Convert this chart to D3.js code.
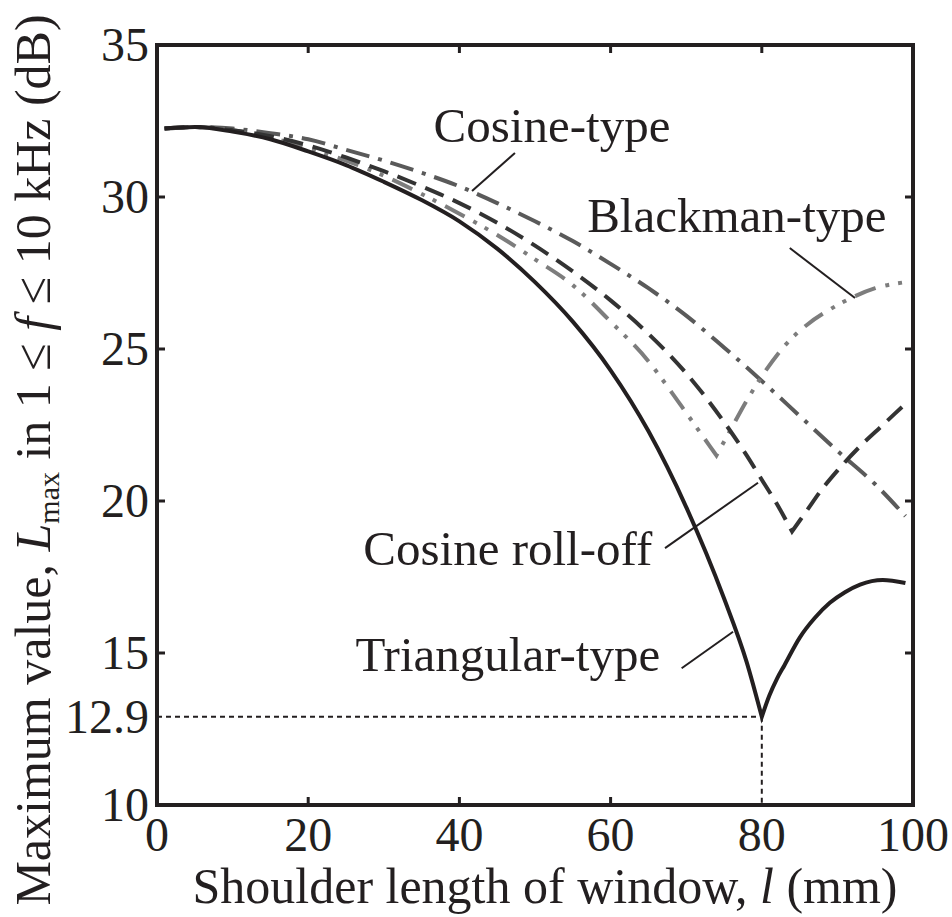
<!DOCTYPE html>
<html>
<head>
<meta charset="utf-8">
<script src="https://cdn.jsdelivr.net/npm/d3@7/dist/d3.min.js"></script>
<style>
  html, body { margin: 0; padding: 0; background: #fff; }
  svg { display: block; font-family: "Liberation Serif", "Times New Roman", serif; }
</style>
</head>
<body>
<svg id="chart" width="952" height="917"></svg>
<script>
// Shoulder length l (mm) and peak level Lmax (dB) for each window type
const triX  = [1, 5, 10, 15, 20, 25, 30, 35, 40, 45, 50, 55, 60, 65, 70, 75, 78, 80, 81, 82, 83, 85, 87, 89, 91, 93, 96, 99];
const triY  = [32.25, 32.3, 32.15, 31.9, 31.5, 31.05, 30.5, 29.9, 29.2, 28.3, 27.2, 25.9, 24.3, 22.3, 19.8, 16.8, 14.7, 12.9, 13.6, 14.15, 14.6, 15.5, 16.15, 16.65, 17.0, 17.25, 17.4, 17.3];

const rollX = [1, 5, 10, 15, 20, 25, 30, 35, 40, 45, 50, 55, 60, 65, 70, 75, 78, 80, 82, 84, 86, 88, 90, 93, 96, 99];
const rollY = [32.25, 32.3, 32.2, 32.0, 31.7, 31.3, 30.85, 30.35, 29.8, 29.15, 28.4, 27.55, 26.6, 25.5, 24.2, 22.6, 21.5, 20.7, 19.9, 19.0, 19.7, 20.4, 21.0, 21.8, 22.5, 23.2];

const blackX = [1, 5, 10, 15, 20, 25, 30, 35, 40, 45, 50, 55, 60, 65, 68, 70, 72, 74, 76, 78, 80, 83, 86, 89, 92, 95, 99];
const blackY = [32.25, 32.3, 32.2, 31.95, 31.6, 31.2, 30.7, 30.1, 29.45, 28.75, 27.95, 27.1, 25.9, 24.6, 23.6, 22.9, 22.2, 21.5, 22.4, 23.3, 24.1, 25.1, 25.8, 26.3, 26.7, 27.0, 27.2];

const cosX  = [1, 5, 10, 15, 20, 25, 30, 35, 40, 45, 50, 55, 60, 65, 70, 75, 80, 85, 90, 95, 99];
const cosY  = [32.25, 32.3, 32.25, 32.1, 31.9, 31.55, 31.2, 30.8, 30.35, 29.8, 29.2, 28.55, 27.8, 27.0, 26.1, 25.05, 23.95, 22.8, 21.65, 20.55, 19.5];

// Axis ticks
const xTickValues = [0, 20, 40, 60, 80, 100];
const yTickValues = [10, 15, 20, 25, 30, 35];
// Minimum of the triangular-type window, marked with dotted guides
const minMarkX = 80;
const minMarkY = 12.9;

// Plot frame
const plotLeft = 157, plotRight = 913, plotTop = 45, plotBottom = 805;
const svg = d3.select("#chart");
const x = d3.scaleLinear().domain([0, 100]).range([plotLeft, plotRight]);
const y = d3.scaleLinear().domain([10, 35]).range([plotBottom, plotTop]);

const line = d3.line().x(d => x(d[0])).y(d => y(d[1])).curve(d3.curveMonotoneX);

// Smooth path that keeps the notch (local minimum) as a sharp cusp
function notchPath(xs, ys) {
  const pts = xs.map((v, i) => [v, ys[i]]);
  let k = -1;
  for (let i = 1; i < ys.length - 1; i++) {
    if (ys[i] < ys[i - 1] && ys[i] < ys[i + 1] && xs[i] > 50) { k = i; break; }
  }
  if (k < 0) return line(pts);
  const a = line(pts.slice(0, k + 1));
  const b = line(pts.slice(k)).replace(/^M[-\d.e]+,[-\d.e]+/, "");
  return a + b;
}

// Dotted guides to the minimum
svg.append("line")
  .attr("x1", x(0)).attr("x2", x(minMarkX))
  .attr("y1", y(minMarkY)).attr("y2", y(minMarkY))
  .attr("stroke", "#231f20").attr("stroke-width", 2).attr("stroke-dasharray", "5,4");
svg.append("line")
  .attr("x1", x(minMarkX)).attr("x2", x(minMarkX))
  .attr("y1", y(minMarkY)).attr("y2", y(10))
  .attr("stroke", "#231f20").attr("stroke-width", 2).attr("stroke-dasharray", "5,4");

const series = [
  { xs: cosX,   ys: cosY,   color: "#5a5a5a", dash: "24,9,4,9" },
  { xs: blackX, ys: blackY, color: "#7d7d7d", dash: "22,10,4,9,4,10" },
  { xs: rollX,  ys: rollY,  color: "#333333", dash: "20,10" },
  { xs: triX,   ys: triY,   color: "#231f20", dash: null }
];

svg.append("g").selectAll("path")
  .data(series)
  .join("path")
  .attr("d", s => notchPath(s.xs, s.ys))
  .attr("fill", "none")
  .attr("stroke", s => s.color)
  .attr("stroke-width", 4)
  .attr("stroke-dasharray", s => s.dash)
  .attr("stroke-linejoin", "miter");

// Ticks pointing into the plot on all four sides
const tickLen = 8;
const tickG = svg.append("g").attr("stroke", "#231f20").attr("stroke-width", 3);
[20, 40, 60].forEach(v => {
  tickG.append("line").attr("x1", x(v)).attr("x2", x(v)).attr("y1", plotBottom).attr("y2", plotBottom - tickLen);
});
[20, 40, 60, 80].forEach(v => {
  tickG.append("line").attr("x1", x(v)).attr("x2", x(v)).attr("y1", plotTop).attr("y2", plotTop + tickLen);
});
[15, 20, 25, 30].forEach(v => {
  tickG.append("line").attr("x1", plotLeft).attr("x2", plotLeft + tickLen).attr("y1", y(v)).attr("y2", y(v));
  tickG.append("line").attr("x1", plotRight).attr("x2", plotRight - tickLen).attr("y1", y(v)).attr("y2", y(v));
});

// Frame
svg.append("rect")
  .attr("x", plotLeft).attr("y", plotTop)
  .attr("width", plotRight - plotLeft).attr("height", plotBottom - plotTop)
  .attr("fill", "none").attr("stroke", "#231f20").attr("stroke-width", 4);

// Tick labels
const labelSize = 48;
svg.append("g").selectAll("text")
  .data(xTickValues)
  .join("text")
  .attr("x", d => x(d)).attr("y", 851)
  .attr("text-anchor", "middle")
  .attr("font-size", labelSize).attr("fill", "#231f20")
  .text(d => d);

svg.append("g").selectAll("text")
  .data(yTickValues.concat([minMarkY]))
  .join("text")
  .attr("x", 149).attr("y", d => y(d))
  .attr("dy", "0.34em")
  .attr("text-anchor", "end")
  .attr("font-size", labelSize).attr("fill", "#231f20")
  .text(d => d);

// Axis titles
const xTitle = svg.append("text")
  .attr("x", 545).attr("y", 903)
  .attr("text-anchor", "middle")
  .attr("font-size", 50).attr("fill", "#231f20");
xTitle.append("tspan").text("Shoulder length of window, ");
xTitle.append("tspan").attr("font-style", "italic").text("l");
xTitle.append("tspan").text(" (mm)");

const yTitle = svg.append("text")
  .attr("transform", "translate(50,460) rotate(-90)")
  .attr("text-anchor", "middle")
  .attr("font-size", 50).attr("fill", "#231f20");
yTitle.append("tspan").text("Maximum value, ");
yTitle.append("tspan").attr("font-style", "italic").text("L");
yTitle.append("tspan").attr("font-size", 30).attr("dy", 9).text("max");
yTitle.append("tspan").attr("dy", -9).text(" in 1 ≤ ");
yTitle.append("tspan").attr("font-style", "italic").text("f");
yTitle.append("tspan").text(" ≤ 10 kHz (dB)");

// Curve labels with leader lines (data coordinates)
const labels = [
  { text: "Cosine-type",     tx: 52.25, ty: 31.8,  from: [47.35, 31.45], to: [41.67, 30.2] },
  { text: "Blackman-type",   tx: 76.7,  ty: 28.85, from: [83.7, 28.32],  to: [92.33, 26.68] },
  { text: "Cosine roll-off", tx: 46.4,  ty: 17.9,  from: [67.2, 18.45],  to: [79.5, 20.6] },
  { text: "Triangular-type", tx: 46.4,  ty: 14.4,  from: [69.4, 14.5],   to: [76.2, 15.7] }
];
const lab = svg.append("g");
labels.forEach(l => {
  lab.append("line")
    .attr("x1", x(l.from[0])).attr("y1", y(l.from[1]))
    .attr("x2", x(l.to[0])).attr("y2", y(l.to[1]))
    .attr("stroke", "#231f20").attr("stroke-width", 2);
  lab.append("text")
    .attr("x", x(l.tx)).attr("y", y(l.ty))
    .attr("text-anchor", "middle")
    .attr("font-size", 49).attr("fill", "#231f20")
    .text(l.text);
});
</script>
</body>
</html>
